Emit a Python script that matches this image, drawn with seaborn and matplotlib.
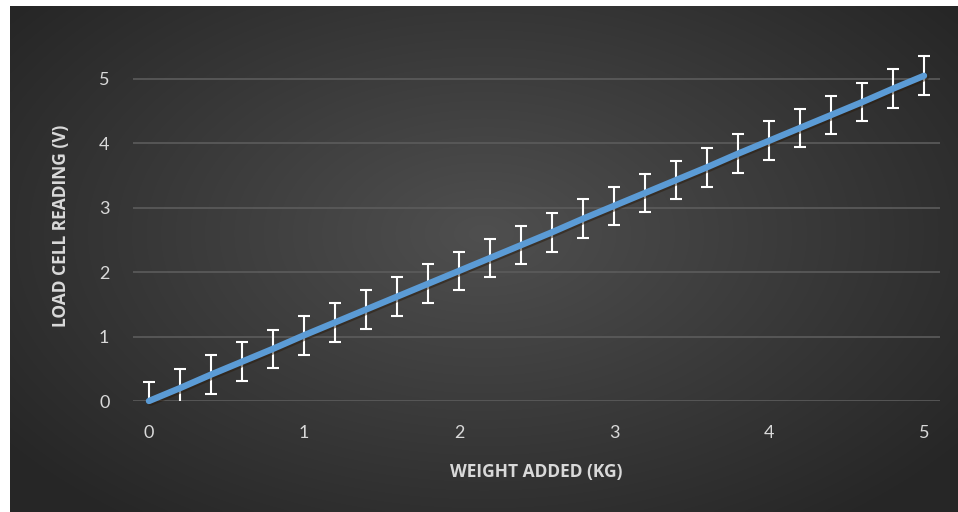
import numpy as np
import pandas as pd
import matplotlib
matplotlib.use('Agg')
import matplotlib.pyplot as plt
import matplotlib.patheffects as pe
import seaborn as sns

# data
weight_kg = [0.0, 0.2, 0.4, 0.6, 0.8, 1.0, 1.2, 1.4, 1.6, 1.8, 2.0, 2.2, 2.4,
             2.6, 2.8, 3.0, 3.2, 3.4, 3.6, 3.8, 4.0, 4.2, 4.4, 4.6, 4.8, 5.0]
reading_v = [0.0, 0.20, 0.41, 0.61, 0.81, 1.02, 1.22, 1.42, 1.62, 1.82, 2.02,
             2.22, 2.42, 2.62, 2.83, 3.03, 3.23, 3.43, 3.63, 3.84, 4.04, 4.24,
             4.44, 4.64, 4.85, 5.05]
err_v = [0.3] * len(weight_kg)
x_ticks = [0, 1, 2, 3, 4, 5]
y_ticks = [0, 1, 2, 3, 4, 5]

df = pd.DataFrame({'weight': weight_kg, 'reading': reading_v, 'err': err_v})

sns.set_theme(style='dark')
plt.rcParams['font.family'] = ['Lato', 'DejaVu Sans']

W, H = 958, 512
fig = plt.figure(figsize=(W / 100, H / 100), dpi=100, facecolor='white')

# dark radial background (the chart area; white strip top and left)
bg = fig.add_axes([10 / W, 0, (W - 10) / W, (H - 6) / H])
gx, gy = np.meshgrid(np.linspace(0, 1, 400), np.linspace(0, 1, 220))
dist = np.sqrt(((gx - 0.5) / 0.75) ** 2 + ((gy - 0.45) / 0.85) ** 2)
shade = np.clip(0.31 - 0.19 * dist, 0.15, 0.31)
bg.imshow(np.dstack([shade] * 3), aspect='auto', extent=[0, 1, 0, 1],
          interpolation='bicubic')
bg.set_axis_off()

ax = fig.add_axes([133 / W, (H - 401) / H, (940 - 133) / W, (401 - 50) / H])
ax.patch.set_alpha(0)

ax.errorbar(df['weight'], df['reading'], yerr=df['err'], fmt='none',
            ecolor='white', elinewidth=1.5, capsize=4.5, capthick=1.5, zorder=3)
sns.lineplot(data=df, x='weight', y='reading', ax=ax, color='#5b9bd5',
             linewidth=4.6, zorder=4, clip_on=False,
             path_effects=[pe.SimpleLineShadow(offset=(1.2, -1.2), shadow_color='#2a1a0a', alpha=0.5),
                           pe.Normal()])

ax.set_xlim(-0.103, 5.103)
ax.set_ylim(0, 5.45)
ax.set_xticks(x_ticks)
ax.set_yticks(y_ticks)
ax.grid(axis='y', color='#5c5c5c', linewidth=1.2)
ax.grid(axis='x', visible=False)
for s in ax.spines.values():
    s.set_visible(False)
ax.tick_params(colors='#d9d9d9', labelsize=13, length=0)
ax.tick_params(axis='x', pad=17)
ax.tick_params(axis='y', pad=17)

lab_font = dict(color='#d9d9d9', fontsize=12.5, fontweight='bold',
                family=['Open Sans', 'DejaVu Sans'])
ax.set_xlabel('WEIGHT ADDED (KG)', labelpad=16, **lab_font)
ax.set_ylabel('LOAD CELL READING (V)', labelpad=21, **lab_font)

fig.savefig('out.png', dpi=100, facecolor='white')
